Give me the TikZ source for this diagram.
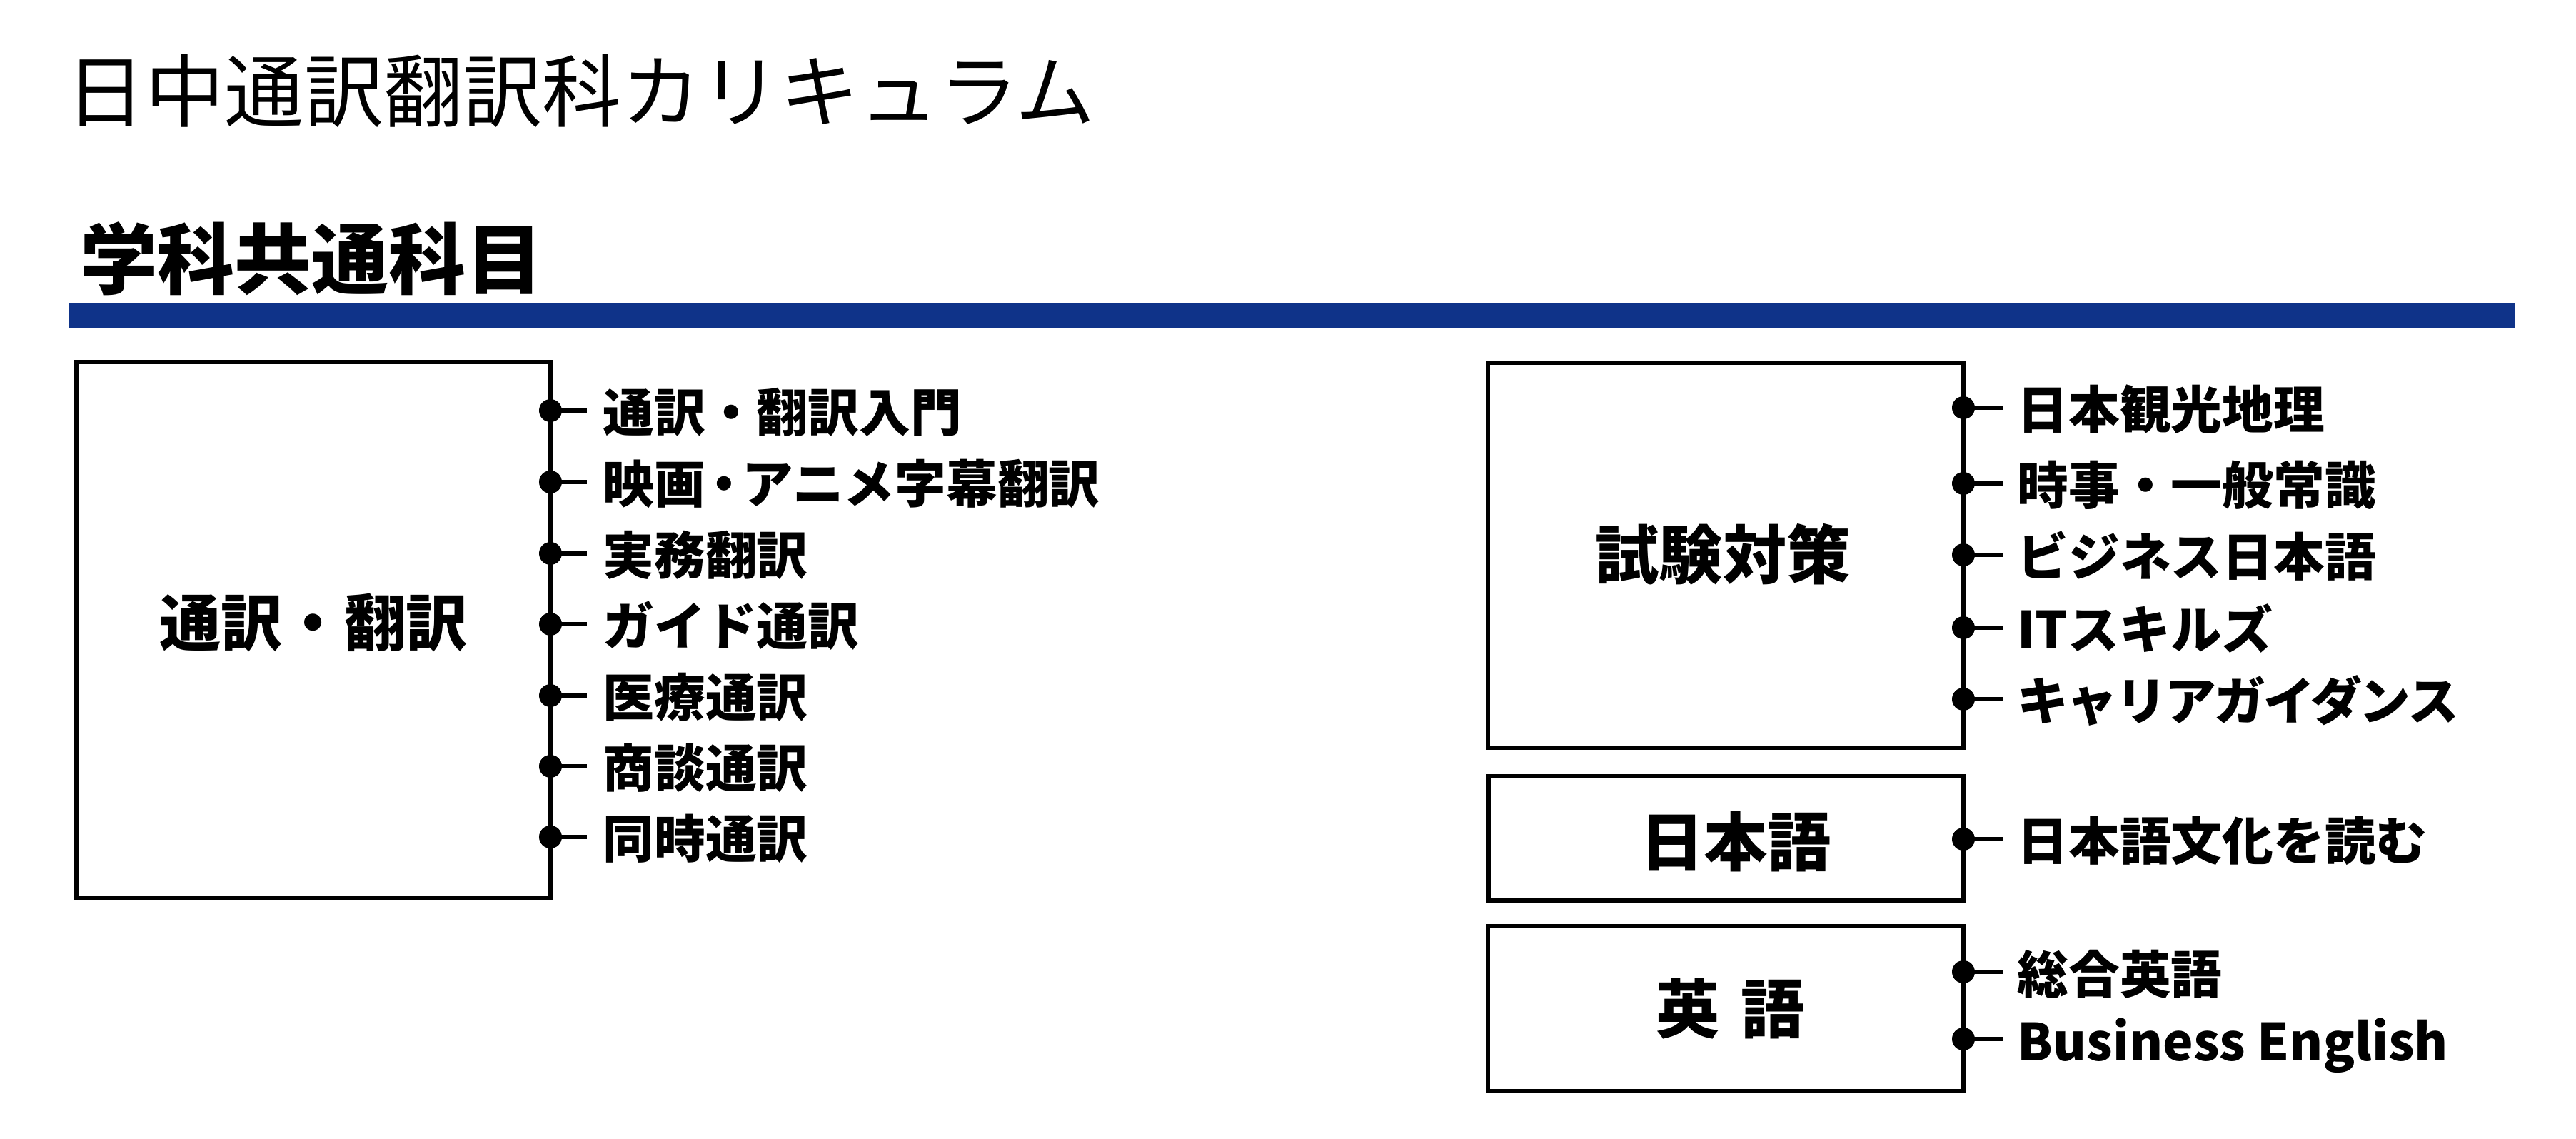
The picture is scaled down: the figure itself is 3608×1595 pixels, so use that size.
\documentclass[tikz,border=0pt]{standalone}
\usepackage{fontspec}
\newfontfamily\jp{Noto Sans CJK JP}
\definecolor{barblue}{RGB}{15,51,137}
\tikzset{
  frame/.style={draw=black, line width=1.7pt, inner sep=0pt, fill=white},
  tick/.style={line width=1.7pt},
  dot/.style={fill=black},
  itemtxt/.style={anchor=base west, inner sep=0pt, font=\jp\bfseries\fontsize{20.4pt}{24pt}\selectfont},
  boxtxt/.style={anchor=base, inner sep=0pt, font=\jp\bfseries\fontsize{25.4pt}{30pt}\selectfont},
}
\begin{document}
\begin{tikzpicture}[x=0.01cm,y=-0.01cm]
\useasboundingbox (0,0) rectangle (3608,1595);
% headings
\node[anchor=base west, inner sep=0pt, font=\jp\fontsize{31.6pt}{36pt}\selectfont] (title) at (92,170) {日中通訳翻訳科カリキュラム};
\node[anchor=base west, inner sep=0pt, font=\jp\bfseries\fontsize{30.7pt}{36pt}\selectfont] (sub) at (112,404) {学科共通科目};
\fill[barblue] (97,424) rectangle (3523,460);
% left box
\node[frame, minimum width=6.64cm, minimum height=7.51cm] (b1) at (439,882.5) {};
\node[boxtxt, font=\jp\bfseries\fontsize{24.5pt}{30pt}\selectfont] (b1t) at (439,905) {通訳・翻訳};
\foreach \i/\y/\t in {1/575/通訳・翻訳入門, 2/675/映画\kern-0.14em・\kern-0.14emアニメ字幕翻訳, 3/775/実務翻訳, 4/874/ガイド通訳, 5/974/医療通訳, 6/1073/商談通訳, 7/1172/同時通訳}{
  \coordinate (ld\i) at (771,\y);
  \coordinate (le\i) at (822,\y);
  \node[itemtxt] (lt\i) at (844,\y+30) {\t};
  \draw[tick] (ld\i) -- (le\i);
  \fill[dot] (ld\i) circle[radius=1.6mm];
}
% right boxes
\node[frame, minimum width=6.66cm, minimum height=5.39cm] (r1) at (2417,777.5) {};
\node[boxtxt] (r1t) at (2413,811) {試験対策};
\node[frame, minimum width=6.65cm, minimum height=1.74cm] (r2) at (2417.5,1174) {};
\node[boxtxt] (r2t) at (2431,1213) {日本語};
\node[frame, minimum width=6.66cm, minimum height=2.31cm] (r3) at (2417,1412.5) {};
\node[boxtxt] (r3t) at (2424,1446) {英\hspace{0.33em}語};
\foreach \i/\y/\t in {1/571/日本観光地理, 2/677/時事・一般常識, 3/777/ビジネス日本語, 4/879/ITスキルズ, 5/979/{\addfontfeature{LetterSpace=-4}キャリアガイダンス}, 6/1175/日本語文化を読む, 7/1361/総合英語, 8/1455/Business English}{
  \coordinate (rd\i) at (2750,\y);
  \coordinate (re\i) at (2805,\y);
  \node[itemtxt] (rt\i) at (2825,\y+30) {\t};
  \draw[tick] (rd\i) -- (re\i);
  \fill[dot] (rd\i) circle[radius=1.6mm];
}
\end{tikzpicture}
\end{document}
